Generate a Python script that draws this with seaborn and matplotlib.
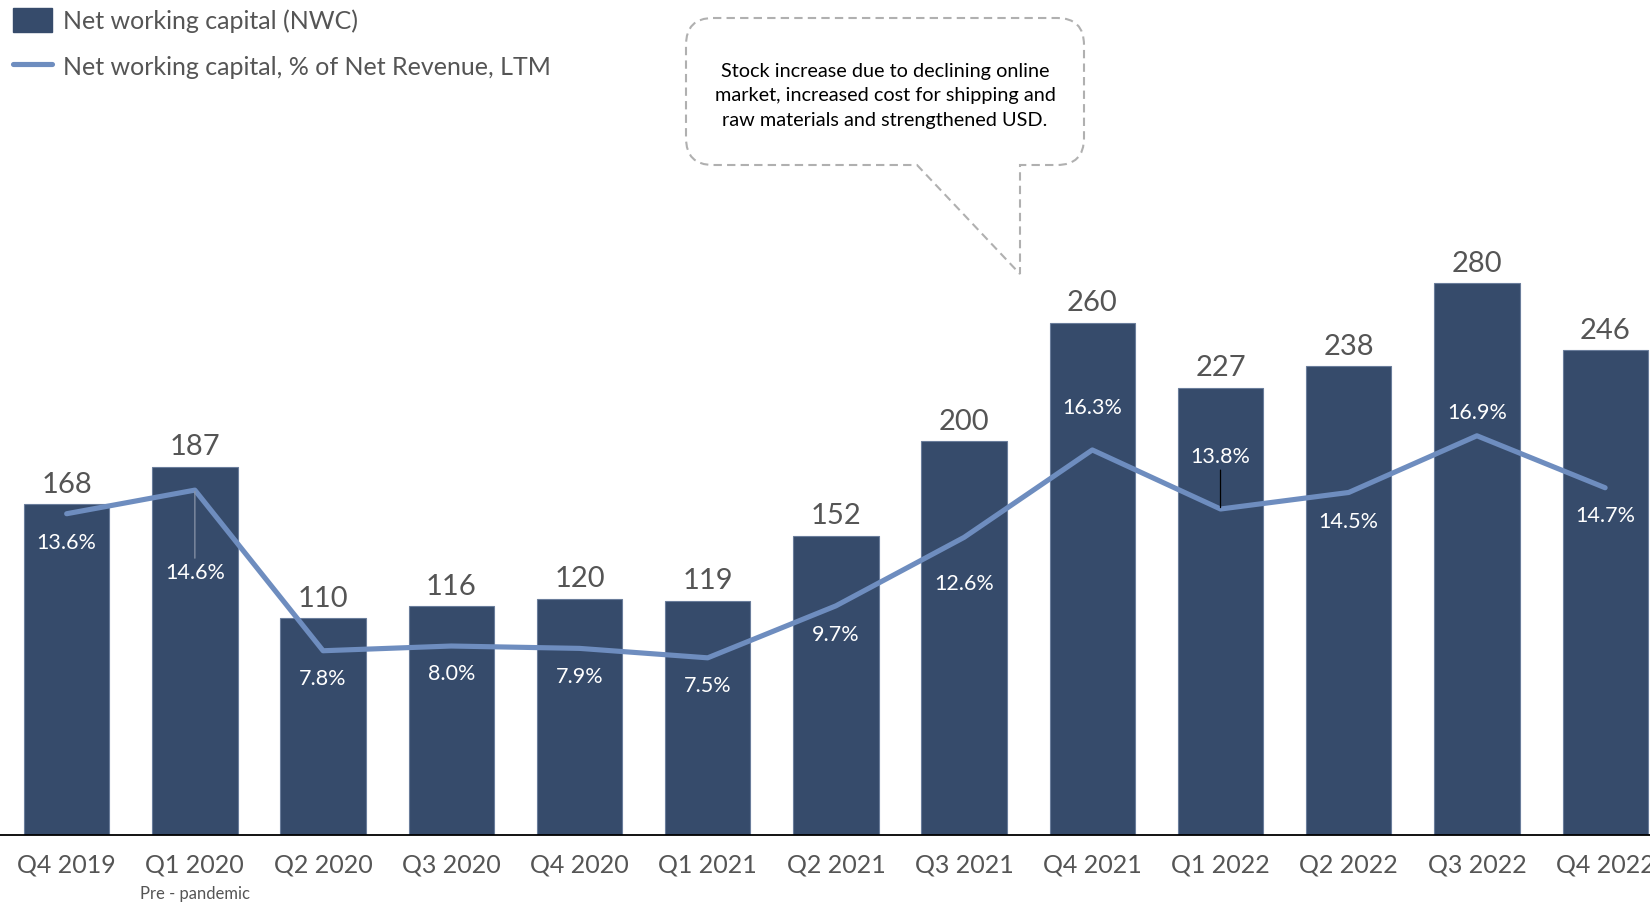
import numpy as np
import pandas as pd
import matplotlib
matplotlib.use("Agg")
import matplotlib.pyplot as plt
import seaborn as sns
from matplotlib.patches import Patch, PathPatch
from matplotlib.lines import Line2D
from matplotlib.path import Path
from matplotlib.transforms import Affine2D

# ---- data ----
quarters = ["Q4 2019", "Q1 2020", "Q2 2020", "Q3 2020", "Q4 2020", "Q1 2021", "Q2 2021",
            "Q3 2021", "Q4 2021", "Q1 2022", "Q2 2022", "Q3 2022", "Q4 2022"]
nwc = [168, 187, 110, 116, 120, 119, 152, 200, 260, 227, 238, 280, 246]
nwc_pct = [13.6, 14.6, 7.8, 8.0, 7.9, 7.5, 9.7, 12.6, 16.3, 13.8, 14.5, 16.9, 14.7]

# label placement for the percentage labels (points, vertical offset from the line)
pct_offsets = [-20.5, -59, -19.7, -19.7, -19.7, -19.7, -20.5, -33, 31, 38, -20.5, 17.4, -19.7]
pct_leaders = [False, True, False, False, False, False, False, False, False, True, False, False, False]

BAR = "#364b6b"
LINE = "#6e8dbf"
GREY = "#555555"

sns.set_theme(style="white")
plt.rcParams["font.family"] = ["Lato", "DejaVu Sans"]

W, H = 1650, 904
fig = plt.figure(figsize=(W / 100, H / 100), dpi=100)
base = 836
ax = fig.add_axes([0, 1 - base / H, 1, base / H])

df = pd.DataFrame({"quarter": quarters, "nwc": nwc, "pct": nwc_pct})
sns.barplot(data=df, x="quarter", y="nwc", color=BAR, saturation=1, width=0.665,
            edgecolor="#6a7d9b", linewidth=0.8, ax=ax)
ax.set_xlim(-0.52, 12.35)
ax.set_ylim(0, 424.4)
ax.set_xlabel("")
ax.set_ylabel("")
ax.set_yticks([])
for s in ["top", "right", "left"]:
    ax.spines[s].set_visible(False)
ax.spines["bottom"].set_color("black")
ax.spines["bottom"].set_linewidth(1.3)
ax.tick_params(axis="x", length=0, pad=12.5, labelsize=18, labelcolor=GREY)

for i, v in enumerate(nwc):
    ax.annotate(f"{v}", (i, v), xytext=(0, 9), textcoords="offset points",
                ha="center", va="baseline", fontsize=21, color=GREY)

ax2 = ax.twinx()
sns.lineplot(x=np.arange(len(nwc_pct)), y=nwc_pct, color=LINE, linewidth=3.7,
             ax=ax2, solid_capstyle="round", solid_joinstyle="round")
ax2.set_ylim(0, 35.39)
ax2.set_xlim(-0.52, 12.35)
ax2.set_yticks([])
ax2.set_ylabel("")
for s in ax2.spines.values():
    s.set_visible(False)

for i, (p, off, lead) in enumerate(zip(nwc_pct, pct_offsets, pct_leaders)):
    ax2.annotate(f"{p:.1f}%", (i, p), xytext=(0, off), textcoords="offset points",
                 ha="center", va="center", fontsize=15.5, color="white")
    if lead:
        sgn = 1 if off > 0 else -1
        col = "black" if off > 0 else "#8a95a8"
        ax2.annotate("", (i, p), xytext=(0, off - sgn * 10), textcoords="offset points",
                     arrowprops=dict(arrowstyle="-", color=col, lw=0.9,
                                     shrinkA=0, shrinkB=1))

# subtitle under Q1 2020
ax.annotate("Pre - pandemic", (1, 0), xytext=(0, -42), textcoords="offset points",
            ha="center", va="center", fontsize=12, color=GREY, annotation_clip=False)

# legend
handles = [Patch(facecolor=BAR, edgecolor=BAR),
           Line2D([0], [0], color=LINE, lw=3.7, solid_capstyle="round")]
labels = ["Net working capital (NWC)", "Net working capital, % of Net Revenue, LTM"]
fig.legend(handles, labels, loc="upper left", bbox_to_anchor=(0.004, 0.997),
           frameon=False, fontsize=18, labelcolor=GREY, handlelength=1.55,
           handleheight=1.1, handletextpad=0.45, labelspacing=0.85,
           borderaxespad=0.15, borderpad=0.1)

# callout bubble (pixel coordinates, y measured from the top)
px = Affine2D().scale(1, -1).translate(0, H).scale(1 / W, 1 / H) + fig.transFigure
x0, x1, y0, y1, r = 686, 1084, 19, 166, 27
t_left, t_x, t_tip = 917, 1020, 275
verts = [
    (x0 + r, y0), (x1 - r, y0), (x1, y0), (x1, y0 + r),
    (x1, y1 - r), (x1, y1), (x1 - r, y1),
    (t_x, y1), (t_x, t_tip), (t_left, y1),
    (x0 + r, y1), (x0, y1), (x0, y1 - r),
    (x0, y0 + r), (x0, y0), (x0 + r, y0),
]
codes = [Path.MOVETO, Path.LINETO, Path.CURVE3, Path.CURVE3,
         Path.LINETO, Path.CURVE3, Path.CURVE3,
         Path.LINETO, Path.LINETO, Path.LINETO,
         Path.LINETO, Path.CURVE3, Path.CURVE3,
         Path.LINETO, Path.CURVE3, Path.CURVE3]
bubble = PathPatch(Path(verts, codes), transform=px, facecolor="white",
                   edgecolor="#b0b0b0", lw=1.5, linestyle=(0, (4, 2.5)), zorder=5)
fig.patches.append(bubble)
fig.text((x0 + x1) / 2 / W, 1 - 96 / H,
         "Stock increase due to declining online\nmarket, increased cost for shipping and\nraw materials and strengthened USD.",
         ha="center", va="center", fontsize=14.3, color="black", linespacing=1.52, zorder=6)

fig.savefig("out.png", dpi=100)
